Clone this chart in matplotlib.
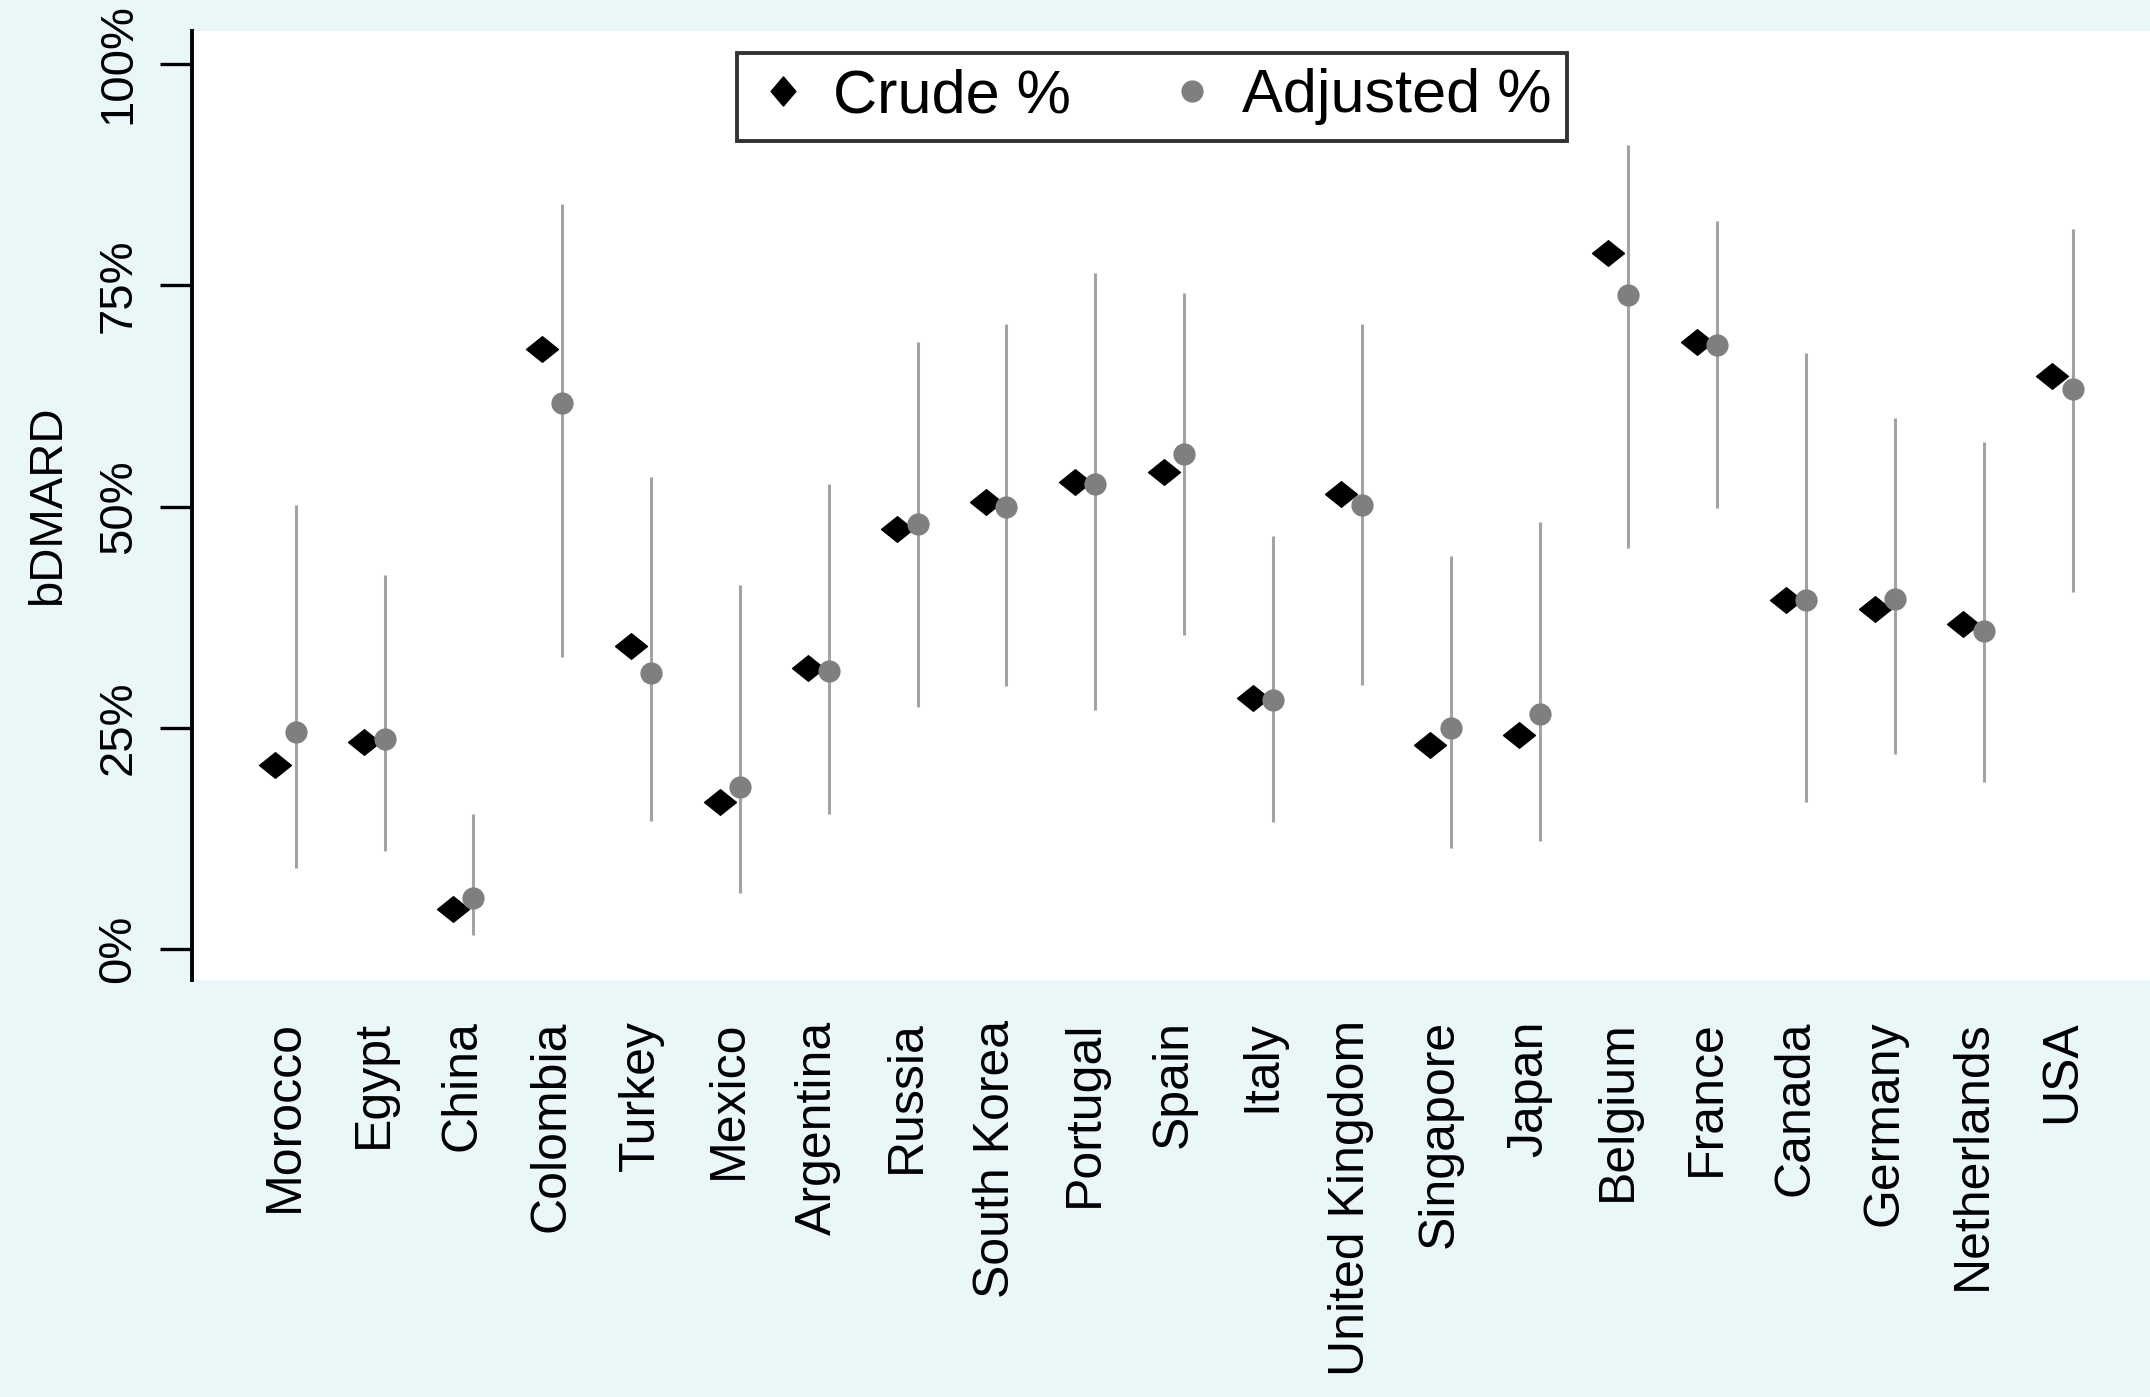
import matplotlib
matplotlib.use("Agg")
import matplotlib.pyplot as plt
from matplotlib.path import Path
from matplotlib.lines import Line2D
import numpy as np

plt.rcParams["font.family"] = ["Liberation Sans", "DejaVu Sans"]

countries = ["Morocco", "Egypt", "China", "Colombia", "Turkey", "Mexico",
             "Argentina", "Russia", "South Korea", "Portugal", "Spain", "Italy",
             "United Kingdom", "Singapore", "Japan", "Belgium", "France",
             "Canada", "Germany", "Netherlands", "USA"]

crude_pct = [20.8, 23.4, 4.5, 67.8, 34.2, 16.6, 31.7, 47.5, 50.5, 52.8, 53.9,
             28.4, 51.4, 23.0, 24.2, 78.7, 68.6, 39.4, 38.4, 36.7, 64.8]

adjusted_pct = [24.5, 23.7, 5.8, 61.7, 31.2, 18.3, 31.4, 48.0, 50.0, 52.5, 55.9,
                28.1, 50.2, 25.0, 26.6, 73.9, 68.3, 39.4, 39.5, 35.9, 63.3]

ci_lower = [9.1, 11.1, 1.6, 33.0, 14.5, 6.3, 15.3, 27.3, 29.7, 27.0, 35.5,
            14.4, 29.8, 11.4, 12.2, 45.3, 49.8, 16.6, 22.0, 18.9, 40.3]

ci_upper = [50.2, 42.3, 15.3, 84.2, 53.3, 41.1, 52.5, 68.6, 70.6, 76.4, 74.1,
            46.7, 70.6, 44.4, 48.3, 90.9, 82.3, 67.3, 60.0, 57.3, 81.4]

y_ticks = [0, 25, 50, 75, 100]
y_ticklabels = ["0%", "25%", "50%", "75%", "100%"]

outer_bg = "#e9f7f9"
ci_color = "#a3a3a3"
adj_color = "#7f7f7f"

# flattened diamond for the crude estimates, upright one for the legend key
diamond_flat = Path([(-1.0, 0.0), (0.0, 0.8), (1.0, 0.0), (0.0, -0.8), (-1.0, 0.0)],
                    [Path.MOVETO, Path.LINETO, Path.LINETO, Path.LINETO, Path.CLOSEPOLY])
diamond_tall = Path([(0.0, 1.0), (0.85, 0.0), (0.0, -1.0), (-0.85, 0.0), (0.0, 1.0)],
                    [Path.MOVETO, Path.LINETO, Path.LINETO, Path.LINETO, Path.CLOSEPOLY])

W, H = 2150, 1397
fig = plt.figure(figsize=(W / 100, H / 100), dpi=100, facecolor=outer_bg)
ax = fig.add_axes([192 / W, 1 - 980 / H, 1 - 192 / W, (980 - 31) / H])
ax.set_facecolor("white")

x = np.arange(len(countries))
x_crude = x - 0.11
x_adj = x + 0.12

ax.vlines(x_adj, ci_lower, ci_upper, colors=ci_color, linewidth=2.2, zorder=2)
ax.plot(x_crude, crude_pct, linestyle="none", marker=diamond_flat, markersize=23,
        color="black", zorder=3)
ax.plot(x_adj, adjusted_pct, linestyle="none", marker="o", markersize=16,
        color=adj_color, markeredgewidth=0, zorder=4)

ax.set_xlim(-1.047, 20.99)
ax.set_ylim(-3.5, 103.73)

for side in ["top", "right", "bottom"]:
    ax.spines[side].set_visible(False)
ax.spines["left"].set_linewidth(2.8)
ax.spines["left"].set_color("black")

ax.set_xticks(x)
ax.set_xticklabels(countries, rotation=90, fontsize=36, va="top")
ax.tick_params(axis="x", length=0, pad=29)

ax.set_yticks(y_ticks)
ax.set_yticklabels(y_ticklabels, rotation=90, fontsize=34, va="center")
ax.tick_params(axis="y", length=23, width=2.4, pad=14, direction="out")

ax.set_ylabel("bDMARD", fontsize=34, labelpad=19)

handles = [
    Line2D([], [], linestyle="none", marker=diamond_tall, markersize=21, color="black"),
    Line2D([], [], linestyle="none", marker="o", markersize=16, color=adj_color,
           markeredgewidth=0),
]
leg = ax.legend(handles, ["Crude %", "Adjusted %"], loc="upper left",
                bbox_to_anchor=(737 / W, 1 - 53 / H), bbox_transform=fig.transFigure,
                ncol=2, fontsize=44, frameon=True, fancybox=False,
                edgecolor="black", borderpad=0.25, borderaxespad=0,
                handlelength=1.0, handletextpad=0.32, columnspacing=1.48)
leg.get_frame().set_linewidth(2.8)
leg.get_frame().set_facecolor("white")

fig.savefig("out.png", dpi=100, facecolor=outer_bg)
